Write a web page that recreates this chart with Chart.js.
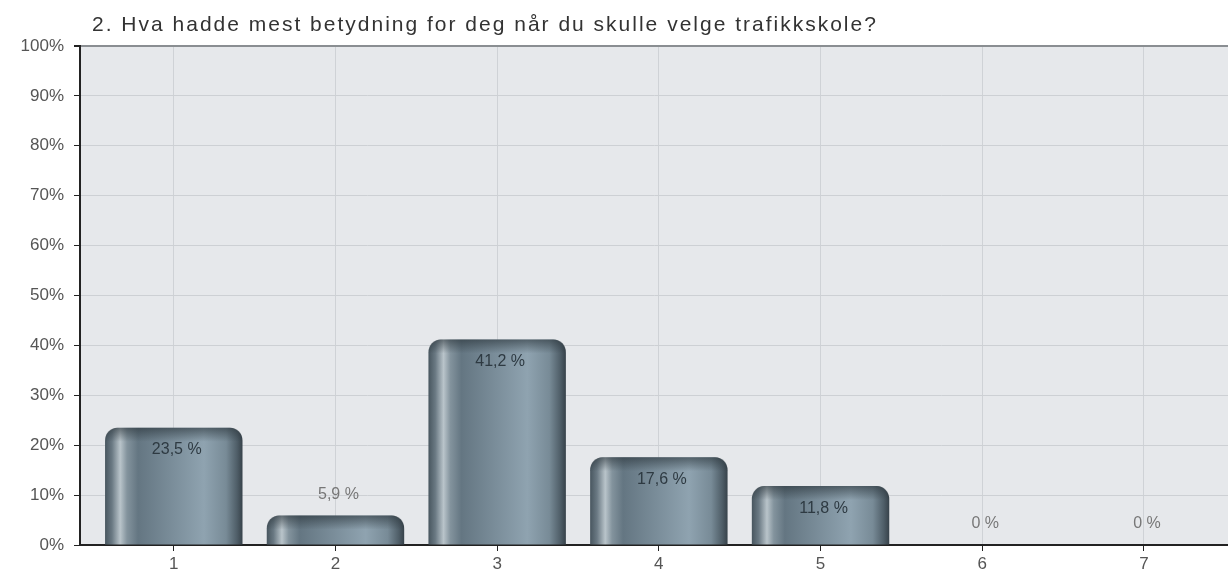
<!DOCTYPE html>
<html>
<head>
<meta charset="utf-8">
<script src="https://cdn.jsdelivr.net/npm/chart.js@4/dist/chart.umd.min.js"></script>
<style>
  html, body { margin: 0; padding: 0; background: #fff; overflow: hidden; }
  #wrap { width: 1228px; height: 581px; }
</style>
</head>
<body>
<div id="wrap"><canvas id="surveyChart" width="1228" height="581"></canvas></div>
<script>
const title = "2. Hva hadde mest betydning for deg når du skulle velge trafikkskole?";
const categories = [1, 2, 3, 4, 5, 6, 7];
const percentages = [23.5, 5.9, 41.2, 17.6, 11.8, 0, 0];
const valueLabels = ["23,5 %", "5,9 %", "41,2 %", "17,6 %", "11,8 %", "0 %", "0 %"];
const yTicks = [0, 10, 20, 30, 40, 50, 60, 70, 80, 90, 100];

const FONT = "'Liberation Sans', Arial, Helvetica, sans-serif";

function barGradient(context) {
  const chart = context.chart;
  if (!chart.chartArea || !context.raw) return "#708390";
  const xScale = chart.scales.x;
  const center = xScale.getPixelForValue(context.raw.x);
  const half = (xScale.getPixelForValue(2) - xScale.getPixelForValue(1)) * 0.85 / 2;
  const g = chart.ctx.createLinearGradient(center - half, 0, center + half, 0);
  g.addColorStop(0, "#48565f");
  g.addColorStop(0.05, "#6a7983");
  g.addColorStop(0.11, "#b9c4ca");
  g.addColorStop(0.16, "#83939d");
  g.addColorStop(0.24, "#647682");
  g.addColorStop(0.72, "#8fa3b0");
  g.addColorStop(0.88, "#788b97");
  g.addColorStop(0.96, "#4f5e68");
  g.addColorStop(1, "#37424a");
  return g;
}

const plotBackground = {
  id: "plotBackground",
  beforeDraw(chart) {
    const { ctx, chartArea } = chart;
    ctx.save();
    ctx.fillStyle = "#e6e8eb";
    ctx.fillRect(chartArea.left, chartArea.top, chartArea.right - chartArea.left, chartArea.bottom - chartArea.top);
    ctx.restore();
  },
};

const titleText = {
  id: "titleText",
  afterDraw(chart) {
    const ctx = chart.ctx;
    ctx.save();
    ctx.font = "21px " + FONT;
    ctx.letterSpacing = "2px";
    ctx.fillStyle = "#333";
    ctx.textBaseline = "alphabetic";
    ctx.textAlign = "left";
    ctx.fillText(title, 92, 31);
    ctx.restore();
  },
};

const barCaps = {
  id: "barCaps",
  afterDatasetsDraw(chart) {
    const ctx = chart.ctx;
    const meta = chart.getDatasetMeta(0);
    ctx.save();
    meta.data.forEach((bar, i) => {
      if (percentages[i] <= 0) return;
      const left = bar.x - bar.width / 2;
      const g = ctx.createLinearGradient(0, bar.y, 0, bar.y + 14);
      g.addColorStop(0, "rgba(40, 50, 56, 0.6)");
      g.addColorStop(1, "rgba(40, 50, 56, 0)");
      ctx.fillStyle = g;
      ctx.beginPath();
      ctx.roundRect(left, bar.y, bar.width, Math.min(14, bar.base - bar.y), [12, 12, 0, 0]);
      ctx.fill();
    });
    ctx.restore();
  },
};

const valueText = {
  id: "valueText",
  afterDatasetsDraw(chart) {
    const ctx = chart.ctx;
    const meta = chart.getDatasetMeta(0);
    ctx.save();
    ctx.font = "16px " + FONT;
    ctx.textAlign = "center";
    ctx.textBaseline = "middle";
    meta.data.forEach((bar, i) => {
      const inside = percentages[i] >= 10;
      ctx.fillStyle = inside ? "#2e3a42" : "#777";
      const y = inside ? bar.y + 22 : bar.y - 21;
      ctx.fillText(valueLabels[i], bar.x + 3, y);
    });
    ctx.restore();
  },
};

new Chart(document.getElementById("surveyChart"), {
  type: "bar",
  data: {
    datasets: [
      {
        data: categories.map((c, i) => ({ x: c, y: percentages[i] })),
        backgroundColor: barGradient,
        borderRadius: { topLeft: 13, topRight: 13, bottomLeft: 0, bottomRight: 0 },
        borderSkipped: "bottom",
        borderWidth: 0,
        categoryPercentage: 1,
        barPercentage: 0.85,
      },
    ],
  },
  options: {
    responsive: false,
    animation: false,
    events: [],
    layout: { padding: { top: 46, right: 0, left: 0, bottom: 0 } },
    plugins: {
      legend: { display: false },
      title: { display: false },
      tooltip: { enabled: false },
    },
    scales: {
      x: {
        type: "linear",
        offset: false,
        min: 0.42,
        max: 7.52,
        afterBuildTicks(axis) {
          axis.ticks = categories.map((c) => ({ value: c }));
        },
        afterFit(axis) {
          axis.height = 36;
        },
        ticks: {
          font: { size: 17, family: FONT },
          color: "#555",
          padding: 3,
          maxRotation: 0,
          callback: (v) => String(v),
        },
        grid: {
          offset: false,
          color: "#cfd2d6",
          tickColor: "#222",
          tickLength: 6,
        },
        border: { color: "#222", width: 2 },
      },
      y: {
        min: 0,
        max: 100,
        afterBuildTicks(axis) {
          axis.ticks = yTicks.map((v) => ({ value: v }));
        },
        afterFit(axis) {
          axis.width = 80;
        },
        ticks: {
          font: { size: 17, family: FONT },
          color: "#555",
          padding: 10,
          callback: (v) => v + "%",
        },
        grid: {
          color: (ctx) => (ctx.tick && ctx.tick.value === 100 ? "#8a8e92" : "#cdd0d4"),
          lineWidth: (ctx) => (ctx.tick && ctx.tick.value === 100 ? 2 : 1),
          tickColor: "#222",
          tickLength: 6,
        },
        border: { color: "#222", width: 2 },
      },
    },
  },
  plugins: [plotBackground, barCaps, valueText, titleText],
});
</script>
</body>
</html>
